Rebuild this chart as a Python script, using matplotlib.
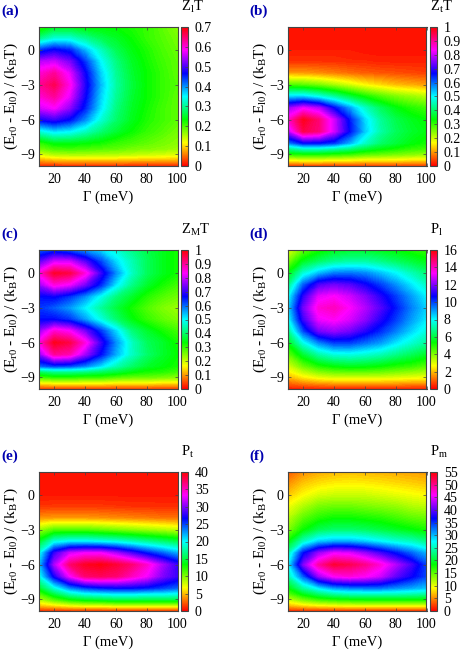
import matplotlib
matplotlib.use("Agg")
import matplotlib.pyplot as plt
import numpy as np
from matplotlib.cm import ScalarMappable
from matplotlib.colors import LinearSegmentedColormap, Normalize

plt.rcParams['font.family'] = ['Liberation Serif', 'DejaVu Serif']
plt.rcParams['mathtext.fontset'] = 'custom'
plt.rcParams['mathtext.rm'] = 'Liberation Serif'
plt.rcParams['mathtext.it'] = 'Liberation Serif'
plt.rcParams['font.size'] = 10

W, H = 462, 655

# grid the values were read on
gamma = [10, 20, 30, 40, 50, 60, 70, 80, 90, 100]
energy = [2, 1, 0, -1, -2, -3, -4, -5, -6, -7, -8, -8.5, -9, -9.5, -10]

zlt = [
    [.20, .24, .24, .23, .23, .23, .22, .21, .19, .17],
    [.29, .33, .33, .30, .27, .25, .23, .21, .195, .18],
    [.44, .47, .45, .38, .32, .27, .24, .22, .20, .185],
    [.55, .56, .52, .44, .35, .29, .25, .225, .205, .19],
    [.60, .63, .57, .47, .37, .30, .255, .23, .21, .19],
    [.63, .66, .59, .48, .38, .305, .26, .23, .21, .195],
    [.60, .63, .57, .47, .37, .30, .255, .23, .21, .19],
    [.56, .58, .53, .45, .36, .29, .25, .225, .205, .19],
    [.47, .49, .46, .40, .33, .28, .245, .22, .205, .19],
    [.33, .36, .35, .32, .285, .255, .23, .21, .195, .18],
    [.21, .24, .24, .235, .225, .21, .20, .19, .18, .17],
    [.18, .20, .205, .20, .195, .19, .18, .175, .17, .16],
    [.13, .15, .155, .155, .15, .15, .145, .14, .135, .13],
    [.07, .08, .085, .085, .085, .085, .08, .08, .08, .075],
    [.015, .015, .015, .015, .015, .015, .015, .015, .015, .015],
]

ztt = [
    [.01, .01, .01, .01, .01, .01, .01, .01, .01, .01],
    [.01, .01, .01, .01, .01, .01, .01, .01, .01, .01],
    [.015, .015, .015, .015, .015, .01, .01, .01, .01, .01],
    [.03, .03, .03, .03, .025, .025, .02, .02, .02, .02],
    [.10, .10, .09, .08, .07, .06, .055, .05, .045, .04],
    [.28, .27, .25, .22, .19, .16, .14, .12, .11, .10],
    [.52, .52, .48, .43, .37, .32, .28, .25, .23, .21],
    [.76, .82, .78, .66, .56, .46, .39, .34, .31, .29],
    [.86, .98, .92, .80, .65, .52, .43, .38, .35, .33],
    [.78, .95, .92, .80, .66, .53, .44, .39, .36, .34],
    [.58, .66, .66, .63, .55, .46, .40, .37, .34, .32],
    [.42, .46, .46, .44, .41, .37, .34, .32, .30, .29],
    [.30, .31, .31, .30, .29, .27, .26, .25, .24, .23],
    [.16, .17, .17, .16, .16, .15, .15, .15, .14, .14],
    [.03, .03, .03, .03, .03, .03, .03, .03, .03, .03],
]

zmt = [
    [.60, .63, .60, .56, .52, .47, .42, .38, .35, .32],
    [.72, .80, .80, .72, .62, .52, .45, .39, .35, .32],
    [.85, .97, .95, .85, .70, .57, .46, .39, .35, .32],
    [.76, .85, .82, .74, .64, .51, .42, .36, .32, .29],
    [.66, .67, .63, .57, .49, .41, .36, .31, .28, .26],
    [.63, .60, .56, .50, .43, .37, .32, .28, .25, .23],
    [.66, .66, .63, .56, .48, .40, .34, .30, .27, .25],
    [.76, .86, .83, .74, .63, .52, .41, .36, .32, .29],
    [.85, .98, .95, .85, .70, .57, .46, .39, .36, .32],
    [.75, .90, .88, .77, .66, .55, .46, .40, .36, .33],
    [.60, .63, .62, .58, .52, .45, .40, .36, .34, .32],
    [.39, .42, .42, .41, .39, .37, .34, .32, .31, .29],
    [.28, .30, .30, .29, .29, .27, .26, .26, .25, .24],
    [.15, .16, .16, .16, .16, .15, .15, .15, .14, .14],
    [.03, .03, .03, .03, .03, .03, .03, .03, .03, .03],
]

pl = [
    [2.8, 4.2, 5, 5.5, 5.7, 5.7, 5.5, 5.3, 5, 4.7],
    [4, 5.6, 6.3, 6.8, 7, 7, 6.7, 6.3, 5.9, 5.5],
    [5.3, 7.5, 8.6, 9.3, 9.4, 9.2, 8.6, 8, 7.2, 6.5],
    [6.5, 9.6, 11.4, 11.8, 11.5, 10.8, 10, 9.1, 8.2, 7.3],
    [7.7, 11, 13, 13.3, 12.8, 12, 11, 10, 9, 8],
    [8.2, 11.8, 13.7, 14, 13.3, 12.5, 11.5, 10.4, 9.3, 8.4],
    [7.7, 11.2, 13.1, 13.4, 12.9, 12.1, 11, 10, 9, 8.1],
    [6.6, 9.8, 11.8, 12.2, 11.8, 11, 10.2, 9.3, 8.4, 7.6],
    [5.4, 7.7, 9.2, 10, 10, 9.5, 9, 8.2, 7.5, 6.9],
    [4.2, 5.8, 7, 7.6, 7.7, 7.5, 7.2, 6.7, 6.2, 5.7],
    [3, 4.2, 5, 5.4, 5.6, 5.5, 5.3, 5, 4.8, 4.4],
    [2.5, 3.3, 3.9, 4.2, 4.3, 4.3, 4.2, 4, 3.8, 3.6],
    [1.8, 2.4, 2.8, 3, 3, 3, 3, 2.9, 2.8, 2.7],
    [1, 1.3, 1.5, 1.6, 1.6, 1.6, 1.6, 1.6, 1.5, 1.5],
    [.2, .2, .2, .2, .2, .2, .2, .2, .2, .2],
]

pt = [
    [.3, .3, .3, .3, .3, .3, .3, .3, .3, .3],
    [.4, .4, .4, .4, .4, .4, .4, .4, .4, .4],
    [.5, .5, .5, .5, .5, .5, .5, .5, .5, .5],
    [1.3, 1.4, 1.4, 1.4, 1.4, 1.3, 1.2, 1.2, 1.1, 1.1],
    [3.8, 4, 4, 4, 3.8, 3.6, 3.4, 3.2, 3, 2.9],
    [9, 11, 11, 11, 10.5, 10, 9.5, 9, 8.5, 8],
    [14, 19, 20, 20, 19.5, 19, 18, 17, 16, 15],
    [19, 28, 32, 33, 33, 31, 28.5, 26, 24, 22],
    [21, 31, 37, 39, 39.5, 38.5, 37, 34.5, 31, 28],
    [19, 27, 33, 37, 37.5, 37, 35, 33, 30, 28],
    [14, 19, 23, 25, 26, 26.5, 26.5, 26, 25, 24],
    [11, 15, 18, 19.5, 20, 20.5, 20.5, 20, 20, 19.5],
    [8.5, 11, 13, 14, 14.5, 15, 15, 15, 15, 15],
    [5, 6, 7, 7.5, 7.5, 8, 8, 8, 8, 8],
    [.8, .8, .8, .8, .8, .8, .8, .8, .8, .8],
]

pm = [
    [3, 5, 6, 6.5, 6.7, 6.5, 6.3, 6, 5.7, 5.5],
    [5, 7, 8, 8.5, 8.7, 8.5, 8.2, 7.8, 7.4, 7],
    [7, 9, 10.5, 11, 11, 11, 10.5, 10, 9.5, 9],
    [9.5, 12, 14, 14.5, 14.5, 14, 13.5, 13, 12, 11.5],
    [11.5, 15, 17, 18, 18, 17.5, 17, 16, 15, 14.5],
    [13.5, 18, 21, 22, 22, 21.5, 20.5, 19.5, 18.5, 17.5],
    [18, 25, 29, 30, 30, 29, 27.5, 26, 25, 23],
    [24, 36, 42, 45, 44.5, 42, 39, 36, 33, 30],
    [27, 41, 49, 53, 52, 50, 47, 43, 39, 34],
    [24, 33, 42, 46, 47, 46, 44, 40, 37, 34],
    [18, 24, 28, 31, 32, 32.5, 32.5, 31.5, 30.5, 29.5],
    [15, 19, 22, 24, 25, 25, 25, 25, 24.5, 24],
    [11, 14, 16, 17, 17.5, 18, 18, 18, 18, 18],
    [6.5, 8, 9, 9.5, 10, 10, 10, 10, 10, 10],
    [1, 1, 1, 1, 1, 1, 1, 1, 1, 1],
]

panel_names = ['(a)', '(b)', '(c)', '(d)', '(e)', '(f)']
titles = ['Z$_{\\mathrm{l}}$T', 'Z$_{\\mathrm{t}}$T', 'Z$_{\\mathrm{M}}$T',
          'P$_{\\mathrm{l}}$', 'P$_{\\mathrm{t}}$', 'P$_{\\mathrm{m}}$']
grids = [zlt, ztt, zmt, pl, pt, pm]
ranges = [0.7, 1, 1, 16, 40, 55]
cbar_ticks = [
    [0, .1, .2, .3, .4, .5, .6, .7],
    [0, .1, .2, .3, .4, .5, .6, .7, .8, .9, 1],
    [0, .1, .2, .3, .4, .5, .6, .7, .8, .9, 1],
    [0, 2, 4, 6, 8, 10, 12, 14, 16],
    [0, 5, 10, 15, 20, 25, 30, 35, 40],
    [0, 5, 10, 15, 20, 25, 30, 35, 40, 45, 50, 55],
]
x_ticks = [20, 40, 60, 80, 100]
y_ticks = [0, -3, -6, -9]

# pixel layout of the panels
lefts = [39, 288]
tops = [27, 250, 472]
ax_w, ax_h = 138.5, 139
border = '#444444'

rainbow = LinearSegmentedColormap.from_list(
    'rainbow6', ['red', 'yellow', 'lime', 'cyan', 'blue', 'magenta', 'red'], N=512)


def px_axes(fig, x0, y0, w, h):
    return fig.add_axes([x0 / W, 1 - (y0 + h) / H, w / W, h / H])


fig = plt.figure(figsize=(W / 100, H / 100), dpi=100)

for i in range(6):
    x0 = lefts[i % 2]
    y0 = tops[i // 2]
    ax = px_axes(fig, x0, y0, ax_w, ax_h)
    cax = px_axes(fig, x0 + 142, y0, 7, ax_h)
    vmax = ranges[i]
    levels = np.linspace(0, vmax, 129)
    ax.contourf(gamma, energy, np.array(grids[i]), levels=levels, cmap=rainbow,
                vmin=0, vmax=vmax, antialiased=False)
    ax.set_xlim(10, 100)
    ax.set_ylim(-10, 2)
    ax.set_xticks(x_ticks)
    ax.set_yticks(y_ticks)
    ax.tick_params(direction='in', length=2, width=0.5, top=True, right=True,
                   color=border, labelsize=10)
    ax.tick_params(axis='x', pad=5)
    ax.tick_params(axis='y', pad=3)
    ax.set_xlabel('Γ (meV)', fontsize=10.5, labelpad=3)
    ax.set_ylabel('(E$_{\\mathrm{r0}}$ - E$_{\\mathrm{l0}}$) / (k$_{\\mathrm{B}}$T)',
                  fontsize=11)
    ax.yaxis.set_label_coords(-0.14, 0.5)
    for s in ax.spines.values():
        s.set_color(border)
        s.set_linewidth(0.8)

    sm = ScalarMappable(norm=Normalize(0, vmax), cmap=rainbow)
    cb = fig.colorbar(sm, cax=cax, ticks=cbar_ticks[i])
    cb.ax.set_yticklabels([f'{t:g}' for t in cbar_ticks[i]])
    cb.ax.tick_params(direction='in', length=2, width=0.5, color=border, pad=5,
                      labelsize=10)
    cb.outline.set_edgecolor(border)
    cb.outline.set_linewidth(0.8)

    fig.text((x0 + 142) / W, 1 - (y0 - 16) / H, titles[i], fontsize=10.5, va='baseline')
    lab_x = 1 if i % 2 == 0 else 249
    fig.text(lab_x / W, 1 - (y0 - 12) / H, panel_names[i], fontsize=11,
             fontweight='bold', color='#0000b0', va='baseline')

fig.savefig('out.png', dpi=100)
